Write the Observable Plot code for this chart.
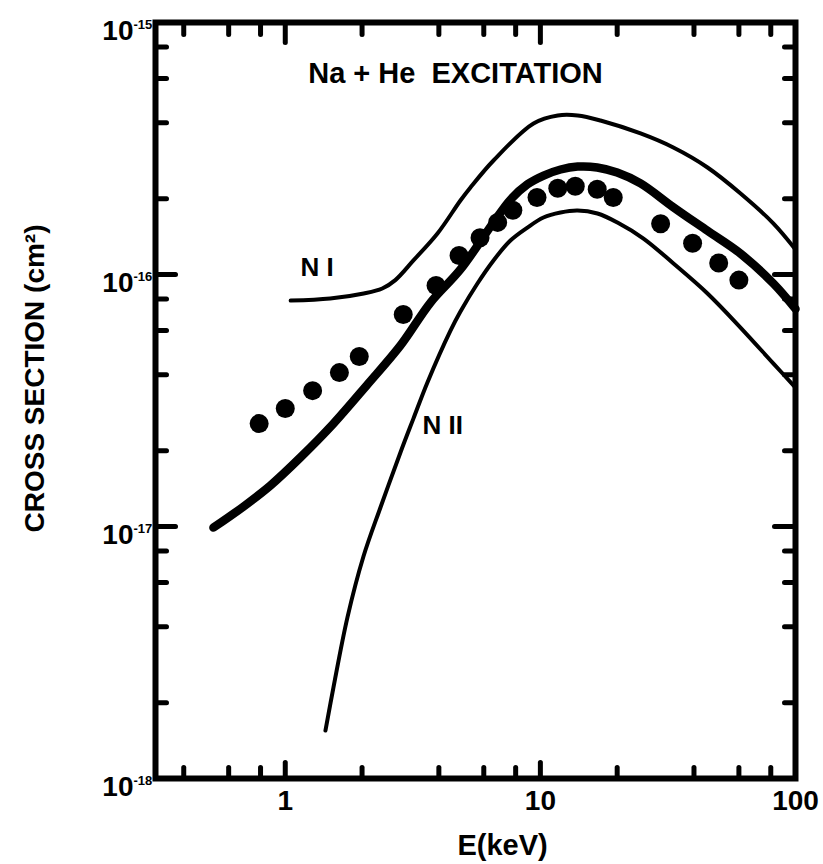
<!DOCTYPE html>
<html>
<head>
<meta charset="utf-8">
<script src="https://cdn.jsdelivr.net/npm/d3@7"></script>
<script src="https://cdn.jsdelivr.net/npm/@observablehq/plot@0.6"></script>
<style>
  html, body { margin: 0; padding: 0; background: #fff; }
  #chart svg { display: block; }
</style>
</head>
<body>
<div id="chart"></div>
<script>
// ---- Data (E in keV, cross section in cm^2) ----
const dotE = [0.79, 1.0, 1.28, 1.63, 1.95, 2.9, 3.9, 4.8, 5.8, 6.8, 7.8, 9.7, 11.7, 13.7, 16.7, 19.3, 29.6, 39.5, 50, 60];
const dotSigma = [2.56e-17, 2.94e-17, 3.46e-17, 4.08e-17, 4.73e-17, 6.94e-17, 9.04e-17, 1.19e-16, 1.40e-16, 1.61e-16,
                  1.80e-16, 2.02e-16, 2.20e-16, 2.24e-16, 2.18e-16, 2.02e-16, 1.59e-16, 1.33e-16, 1.11e-16, 9.5e-17];

const thickE = [0.523, 0.686, 0.875, 1.147, 1.545, 2.10, 2.83, 3.71, 4.86, 6.55, 7.63, 8.90, 10.3, 12.0, 14.0, 16.7,
                20.0, 24.7, 33.2, 45.2, 60.9, 82.0, 100];
const thickSigma = [9.9e-18, 1.20e-17, 1.455e-17, 1.88e-17, 2.56e-17, 3.66e-17, 5.23e-17, 7.74e-17, 1.047e-16, 1.61e-16,
                    1.98e-16, 2.28e-16, 2.47e-16, 2.61e-16, 2.68e-16, 2.66e-16, 2.54e-16, 2.30e-16, 1.85e-16, 1.49e-16,
                    1.21e-16, 9.2e-17, 7.3e-17];

const n1E = [1.05, 1.50, 2.03, 2.40, 2.70, 3.18, 3.95, 4.86, 5.32, 6.55, 9.40, 11.7, 14.0, 17.2, 24.7, 33.2, 45.2, 60.9, 82.0, 100];
const n1Sigma = [7.88e-17, 8.03e-17, 8.41e-17, 8.80e-17, 9.50e-17, 1.137e-16, 1.454e-16, 1.966e-16, 2.215e-16, 2.834e-16,
                 3.975e-16, 4.276e-16, 4.276e-16, 4.083e-16, 3.627e-16, 3.19e-16, 2.658e-16, 2.096e-16, 1.593e-16, 1.257e-16];

const n2E = [1.437, 1.545, 1.753, 2.025, 2.361, 2.828, 3.179, 3.608, 4.442, 4.861, 5.666, 6.55, 7.63, 8.90, 10.28, 11.99,
             13.98, 16.74, 20.05, 25.36, 33.24, 45.19, 60.86, 81.97, 100];
const n2Sigma = [1.55e-18, 2.30e-18, 4.36e-18, 7.60e-18, 1.19e-17, 1.966e-17, 2.68e-17, 3.73e-17, 5.99e-17, 7.13e-17,
                 9.21e-17, 1.137e-16, 1.364e-16, 1.536e-16, 1.683e-16, 1.762e-16, 1.795e-16, 1.746e-16, 1.608e-16,
                 1.389e-16, 1.106e-16, 8.41e-17, 6.16e-17, 4.43e-17, 3.56e-17];

// ---- Ticks and labels ----
const xMajorTicks = [1, 10];
const xMinorTicks = [0.4, 0.6, 0.8, 2, 4, 6, 8, 20, 40, 60, 80];
const xTickLabels = [1, 10, 100];
const yMajorTicks = [1e-16, 1e-17];
const yMinorTicks = [8e-16, 6e-16, 4e-16, 2e-16, 8e-17, 6e-17, 4e-17, 2e-17, 8e-18, 6e-18, 4e-18, 2e-18];
const yTickLabels = [1e-15, 1e-16, 1e-17, 1e-18];
const yTickExponents = ["-15", "-16", "-17", "-18"];

const curveLabels = ["N I", "N II"];
const curveLabelE = [1.147, 3.45];
const curveLabelSigma = [1.066e-16, 2.52e-17];

const titleText = "Na + He\u00a0\u00a0EXCITATION";
const xLabel = "E(keV)";
const yLabel = "CROSS SECTION (cm\u00b2)";

// ---- Tables ----
const toRows = (E, S) => E.map((e, i) => ({E: e, sigma: S[i]}));
const dots = toRows(dotE, dotSigma);
const thick = toRows(thickE, thickSigma);
const n1 = toRows(n1E, n1Sigma);
const n2 = toRows(n2E, n2Sigma);
const labels = curveLabels.map((t, i) => ({text: t, E: curveLabelE[i], sigma: curveLabelSigma[i]}));

const tickShape = { draw(context, l) { context.moveTo(0, 0); context.lineTo(0, -l); } };
const font = "'Liberation Sans', Arial, 'DejaVu Sans', sans-serif";

const tickMarks = (values, frameAnchor, rotate, length, channel) =>
  Plot.vector(values, {
    [channel]: d => d, frameAnchor, rotate, length, anchor: "start",
    shape: tickShape, strokeWidth: 5, stroke: "black", strokeLinecap: "round"
  });

const chart = Plot.plot({
  width: 823,
  height: 864,
  marginLeft: 155,
  marginRight: 28,
  marginTop: 22,
  marginBottom: 86,
  style: { fontFamily: font, background: "white", color: "black" },
  x: { type: "log", domain: [0.31, 100], axis: null },
  y: { type: "log", domain: [1e-18, 1e-15], axis: null },
  marks: [
    // curves
    Plot.line(n1, {x: "E", y: "sigma", curve: "catmull-rom", stroke: "black", strokeWidth: 4, strokeLinecap: "round", strokeLinejoin: "round"}),
    Plot.line(n2, {x: "E", y: "sigma", curve: "catmull-rom", stroke: "black", strokeWidth: 4, strokeLinecap: "round", strokeLinejoin: "round"}),
    Plot.line(thick, {x: "E", y: "sigma", curve: "catmull-rom", stroke: "black", strokeWidth: 8.5, strokeLinecap: "round", strokeLinejoin: "round"}),
    Plot.dot(dots, {x: "E", y: "sigma", r: 9.5, fill: "black", stroke: "none"}),
    // ticks (inward, all four sides)
    tickMarks(xMajorTicks, "bottom", 0, 16, "x"),
    tickMarks(xMinorTicks, "bottom", 0, 11, "x"),
    tickMarks(xMajorTicks, "top", 180, 20, "x"),
    tickMarks(xMinorTicks, "top", 180, 12, "x"),
    tickMarks(yMajorTicks, "left", 90, 20, "y"),
    tickMarks(yMinorTicks, "left", 90, 11, "y"),
    tickMarks(yMajorTicks, "right", -90, 21, "y"),
    tickMarks(yMinorTicks, "right", -90, 11, "y"),
    Plot.frame({stroke: "black", strokeWidth: 6}),
    // tick labels
    Plot.text(xTickLabels, {x: d => d, text: d => String(d), frameAnchor: "bottom", lineAnchor: "middle", textAnchor: "middle", dy: 23, fontSize: 28, fontWeight: "bold", fill: "black"}),
    Plot.text(yTickLabels, {y: d => d, text: () => "10", frameAnchor: "left", lineAnchor: "middle", textAnchor: "end", dx: -22, dy: 9, fontSize: 28, fontWeight: "bold", fill: "black"}),
    Plot.text(yTickLabels, {y: d => d, text: (d, i) => yTickExponents[i], frameAnchor: "left", lineAnchor: "middle", textAnchor: "start", dx: -22, dy: 2, fontSize: 13, fontWeight: "bold", fill: "black"}),
    // axis titles
    Plot.text([xLabel], {text: d => d, frameAnchor: "bottom", lineAnchor: "middle", textAnchor: "middle", dx: 27, dy: 67, fontSize: 29, fontWeight: "bold", fill: "black"}),
    Plot.text([yLabel], {text: d => d, frameAnchor: "left", lineAnchor: "middle", textAnchor: "middle", rotate: -90, dx: -120, dy: -22, fontSize: 28, fontWeight: "bold", fill: "black"}),
    // in-plot title and curve labels
    Plot.text([titleText], {text: d => d, frameAnchor: "top", lineAnchor: "middle", textAnchor: "middle", dx: -20, dy: 51, fontSize: 29, fontWeight: "bold", fill: "black"}),
    Plot.text(labels, {x: "E", y: "sigma", text: "text", textAnchor: "start", lineAnchor: "middle", fontSize: 26, fontWeight: "bold", fill: "black"})
  ]
});

document.getElementById("chart").appendChild(chart);
</script>
</body>
</html>
